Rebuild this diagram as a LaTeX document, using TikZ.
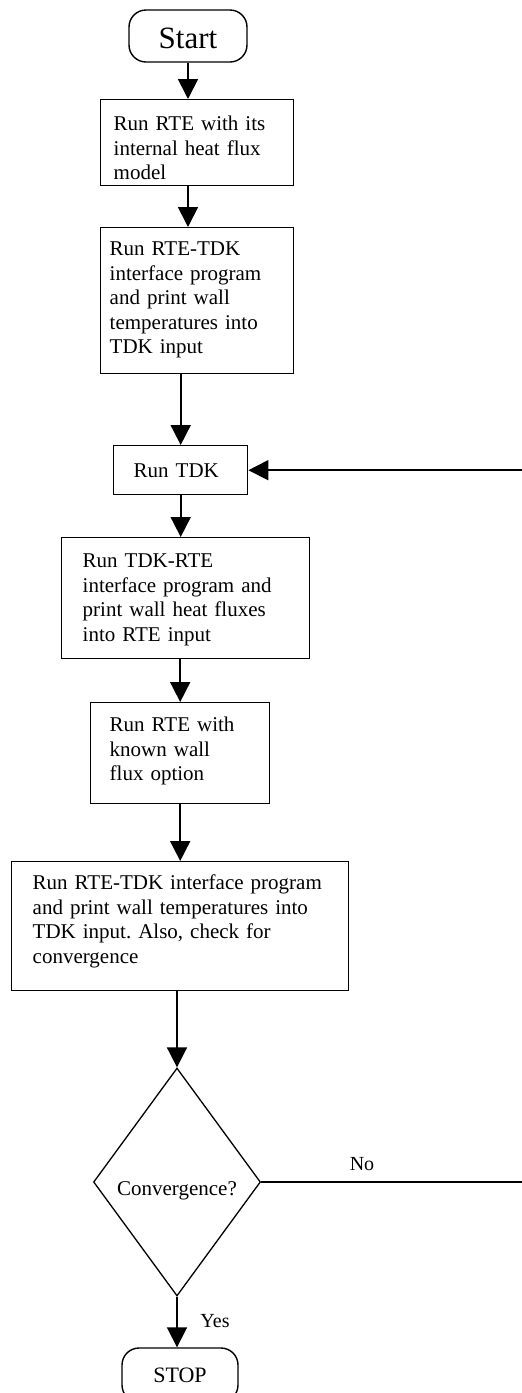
\documentclass[tikz,border=0pt]{standalone}
\usepackage{fontspec}
\setmainfont{Liberation Serif}
\usetikzlibrary{arrows.meta,shapes.geometric}
\frenchspacing
\begin{document}
\begin{tikzpicture}[x=1pt,y=-1pt,
  stepbox/.style={draw, line width=1.4pt, rectangle, align=left, inner ysep=0pt,
    anchor=north west, font=\fontsize{21}{24.5}\selectfont},
  term/.style={draw, line width=1.4pt, rectangle, rounded corners=17pt, inner sep=0pt},
  decision/.style={draw, line width=1.3pt, diamond, inner sep=0pt,
    minimum width=167pt, minimum height=228pt, font=\fontsize{21}{24}\selectfont},
  arr/.style={line width=1.8pt, -{Triangle[width=20pt,length=20pt]}},
  plain/.style={line width=1.8pt},
  tag/.style={anchor=base, inner sep=0pt, font=\fontsize{20}{24}\selectfont}]
\useasboundingbox (0,0) rectangle (522,1393);

% terminals
\node[term, minimum width=118pt, minimum height=52pt, text height=24pt, text depth=0pt,
  font=\fontsize{31}{34}\selectfont] (start) at (188,36) {Start};
\node[term, minimum width=116pt, minimum height=54pt,
  font=\fontsize{22}{26}\selectfont] (stop) at (180,1375) {STOP};

% process steps
\node[stepbox, text width=167pt, inner xsep=13pt, text height=31pt, text depth=55pt]
  (rte1) at (100,99) {Run RTE with its\\internal heat flux\\model};
\node[stepbox, text width=175pt, inner xsep=9pt, text height=28pt, text depth=118pt]
  (rtetdk1) at (100,227) {Run RTE-TDK\\interface program\\and print wall\\temperatures into\\TDK input};
\node[stepbox, text width=94pt, inner xsep=20pt, text height=32pt, text depth=17pt]
  (tdk) at (113,445) {Run TDK};
\node[stepbox, text width=206pt, inner xsep=21pt, text height=30pt, text depth=91pt]
  (tdkrte) at (61,537) {Run TDK-RTE\\interface program and\\print wall heat fluxes\\into RTE input};
\node[stepbox, text width=141pt, inner xsep=19pt, text height=29pt, text depth=72pt]
  (rte2) at (90,702) {Run RTE with\\known wall\\flux option};
\node[stepbox, text width=295pt, inner xsep=21pt, text height=28pt, text depth=101pt]
  (rtetdk2) at (11,861) {Run RTE-TDK interface program\\and print wall temperatures into\\TDK input. Also, check for\\convergence};

% convergence test
\node[decision, text height=30pt, text depth=4pt] (conv) at (177,1182) {Convergence?};

% loop end points at the right margin
\coordinate (rim) at (522,0);

% connectors
\draw[arr] (start.south) -- (start.south |- rte1.north);
\draw[arr] (rte1.south -| start.south) -- (start.south |- rtetdk1.north);
\draw[arr] (rtetdk1.south -| tdk.north) -- (tdk.north);
\draw[arr] (tdk.south) -- (tdk.south |- tdkrte.north);
\draw[arr] (tdkrte.south -| rte2.north) -- (rte2.north);
\draw[arr] (rte2.south) -- (rte2.south |- rtetdk2.north);
\draw[arr] (rtetdk2.south -| conv.north) -- (conv.north);
\draw[arr] (conv.south) -- (conv.south |- stop.north);
\draw[plain] (conv.east) -- (conv.east -| rim);
\draw[arr] (tdk.east -| rim) -- (tdk.east);

% branch labels
\node[tag] (no) at (362,1170) {No};
\node[tag] (yes) at (215,1327) {Yes};
\end{tikzpicture}
\end{document}
